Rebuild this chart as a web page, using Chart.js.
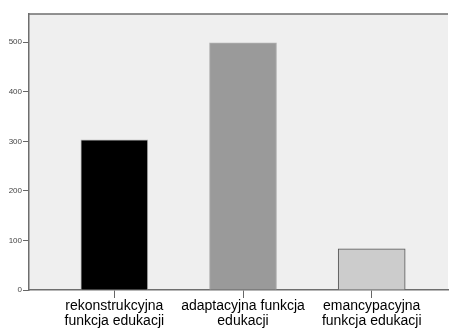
<!DOCTYPE html>
<html><head><meta charset="utf-8">
<script src="https://cdn.jsdelivr.net/npm/chart.js@4"></script>
<style>html,body{margin:0;padding:0;background:#fff}#wrap{width:449px;height:331px}</style>
</head><body><div id="wrap"><canvas id="c" width="449" height="331"></canvas></div>
<script>
const categories = [['rekonstrukcyjna','funkcja edukacji'],['adaptacyjna funkcja','edukacji'],['emancypacyjna','funkcja edukacji']];
const positions = [1, 2, 3];
const counts = [303, 499, 83];
const yTicks = [0, 100, 200, 300, 400, 500];
const barColors = ['#000000', '#9a9a9a', '#cccccc'];
const barBorders = ['#b0b0b0', '#b0b0b0', '#555555'];

const bgPlugin = {
  id: 'bg',
  beforeDraw(chart) {
    const a = chart.chartArea, ctx = chart.ctx;
    ctx.save();
    ctx.fillStyle = '#efefef';
    ctx.fillRect(a.left, a.top, a.right - a.left, a.bottom - a.top);
    ctx.restore();
  },
  afterDraw(chart) {
    const a = chart.chartArea, ctx = chart.ctx;
    ctx.save();
    ctx.strokeStyle = '#6e6e6e';
    ctx.lineWidth = 1.5;
    ctx.beginPath();
    ctx.moveTo(a.left - 1, a.top);
    ctx.lineTo(a.right, a.top);
    ctx.stroke();
    ctx.restore();
  }
};

new Chart(document.getElementById('c'), {
  type: 'bar',
  data: {
    datasets: [{
      data: positions.map((p, i) => ({x: p, y: counts[i]})),
      backgroundColor: barColors,
      borderColor: barBorders,
      borderWidth: 1,
      barThickness: 67
    }]
  },
  options: {
    responsive: false,
    animation: false,
    layout: {padding: {top: 14, right: 1, left: 0, bottom: 0}},
    plugins: {legend: {display: false}, tooltip: {enabled: false}},
    scales: {
      x: {
        type: 'linear',
        offset: false,
        min: 0.337,
        max: 3.593,
        afterBuildTicks(scale) { scale.ticks = positions.map(v => ({value: v})); },
        afterFit(scale) { scale.height = 41; },
        grid: {display: true, offset: false, drawOnChartArea: false, drawTicks: true, tickLength: 8, color: '#666', lineWidth: 1},
        border: {display: true, color: '#6e6e6e', width: 1.5},
        ticks: {
          autoSkip: false, maxRotation: 0, padding: 1,
          color: '#000',
          font: {family: 'Liberation Sans, Arial, sans-serif', size: 14, lineHeight: 1.07},
          callback(v) { const i = positions.indexOf(v); return i >= 0 ? categories[i] : ''; }
        }
      },
      y: {
        min: 0,
        max: 557,
        afterBuildTicks(scale) { scale.ticks = yTicks.map(v => ({value: v})); },
        afterFit(scale) { scale.width = 29; },
        grid: {display: true, drawOnChartArea: false, drawTicks: true, tickLength: 6, color: '#666', lineWidth: 1},
        border: {display: true, color: '#6e6e6e', width: 1.5},
        ticks: {
          padding: 1,
          color: '#444',
          font: {family: 'Liberation Sans, Arial, sans-serif', size: 8}
        }
      }
    }
  },
  plugins: [bgPlugin]
});
</script>
</body></html>
